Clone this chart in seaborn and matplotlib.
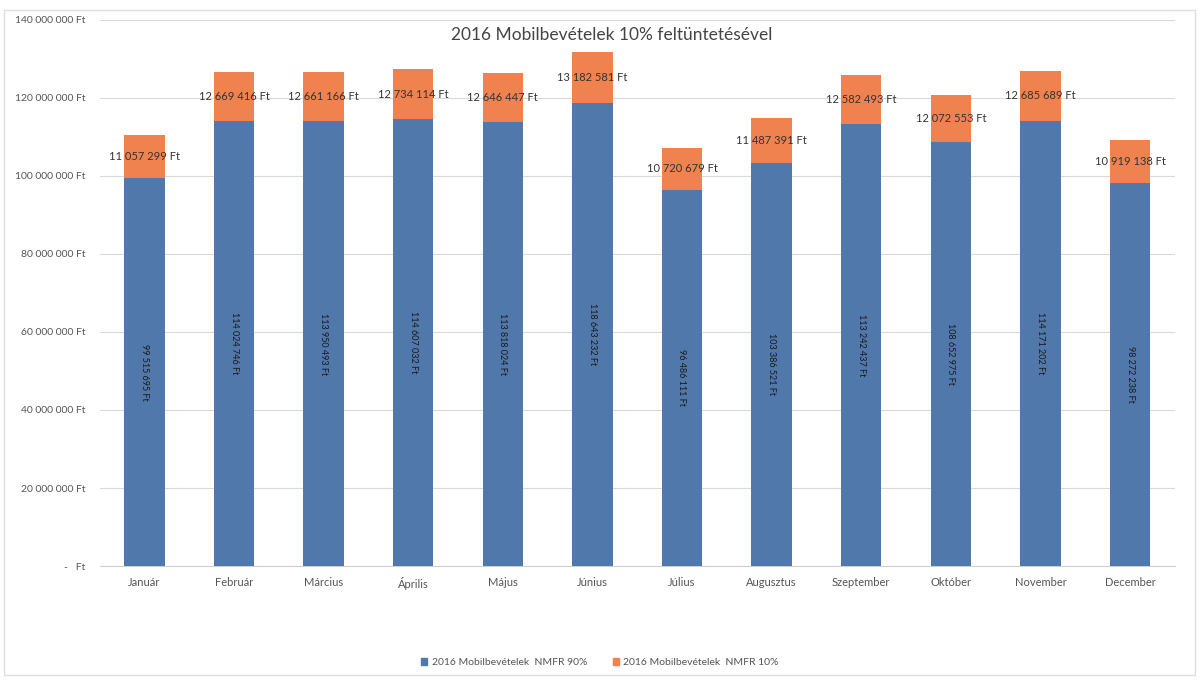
import numpy as np
import pandas as pd
import seaborn as sns
from matplotlib import pyplot as plt
from matplotlib.patches import Patch

months = ["Január", "Február", "Március", "Április", "Május", "Június",
          "Július", "Augusztus", "Szeptember", "Október", "November", "December"]

# 90% (blue) and 10% (orange) parts, Ft
nmfr_90 = [99515695, 114024746, 113950493, 114607032, 113818024, 118643232,
           96486111, 103386521, 113242437, 108652975, 114171202, 98272238]
nmfr_10 = [11057299, 12669416, 12661166, 12734114, 12646447, 13182581,
           10720679, 11487391, 12582493, 12072553, 12685689, 10919138]

series_90 = "2016 Mobilbevételek  NMFR 90%"
series_10 = "2016 Mobilbevételek  NMFR 10%"
title = "2016 Mobilbevételek 10% feltüntetésével"

blue = "#5078ab"
orange = "#f0824f"

df = pd.DataFrame({"honap": months, "p90": nmfr_90, "p10": nmfr_10})
df["total"] = df["p90"] + df["p10"]

sns.set_style("white")
plt.rcParams["font.family"] = ["Lato", "DejaVu Sans"]

fig = plt.figure(figsize=(12, 6.82), dpi=100)
ax = fig.add_axes([0.083, 0.170, 0.896, 0.801])

sns.barplot(x="honap", y="total", data=df, color=orange, width=0.45,
            saturation=1, linewidth=0, ax=ax, zorder=2)
sns.barplot(x="honap", y="p90", data=df, color=blue, width=0.45,
            saturation=1, linewidth=0, ax=ax, zorder=3)


def fmt(v):
    return "{:,}".format(int(v)).replace(",", " ") + " Ft"


for i, row in df.iterrows():
    ax.text(i, row["p90"] / 2, fmt(row["p90"]), rotation=270, ha="center",
            va="center", fontsize=6.5, color="#1a1a1a", zorder=4)
    ax.text(i, row["p90"] + row["p10"] / 2, fmt(row["p10"]), ha="center",
            va="center", fontsize=8, color="#333333", zorder=4)

ax.set_ylim(0, 140000000)
ax.set_yticks(np.arange(0, 140000001, 20000000))
ax.set_yticklabels(["-   Ft"] + [fmt(v) for v in np.arange(20000000, 140000001, 20000000)])
ax.yaxis.grid(True, color="#d9d9d9", linewidth=0.8, zorder=0)
ax.set_axisbelow(True)
ax.set_xlabel("")
ax.set_ylabel("")
ax.tick_params(axis="y", labelsize=7.5, colors="#555555", length=0, pad=10)
ax.tick_params(axis="x", labelsize=8, colors="#555555", length=0, pad=8)
for s in ["top", "right", "left"]:
    ax.spines[s].set_visible(False)
ax.spines["bottom"].set_color("#d0d0d0")
ax.set_xlim(-0.5, 11.5)

fig.text(0.51, 0.948, title, ha="center", va="center", fontsize=12.5, color="#444444")

handles = [Patch(color=blue), Patch(color=orange)]
fig.legend(handles, [series_90, series_10], loc="center", bbox_to_anchor=(0.5, 0.028),
           ncol=2, frameon=False, fontsize=7.5, handlelength=0.6, handleheight=0.6,
           columnspacing=2.5, handletextpad=0.4, labelcolor="#555555")

border = plt.Rectangle((0.003, 0.01), 0.993, 0.975, transform=fig.transFigure,
                       fill=False, edgecolor="#dddddd", linewidth=1)
fig.patches.append(border)

fig.savefig("out.png", dpi=100)
